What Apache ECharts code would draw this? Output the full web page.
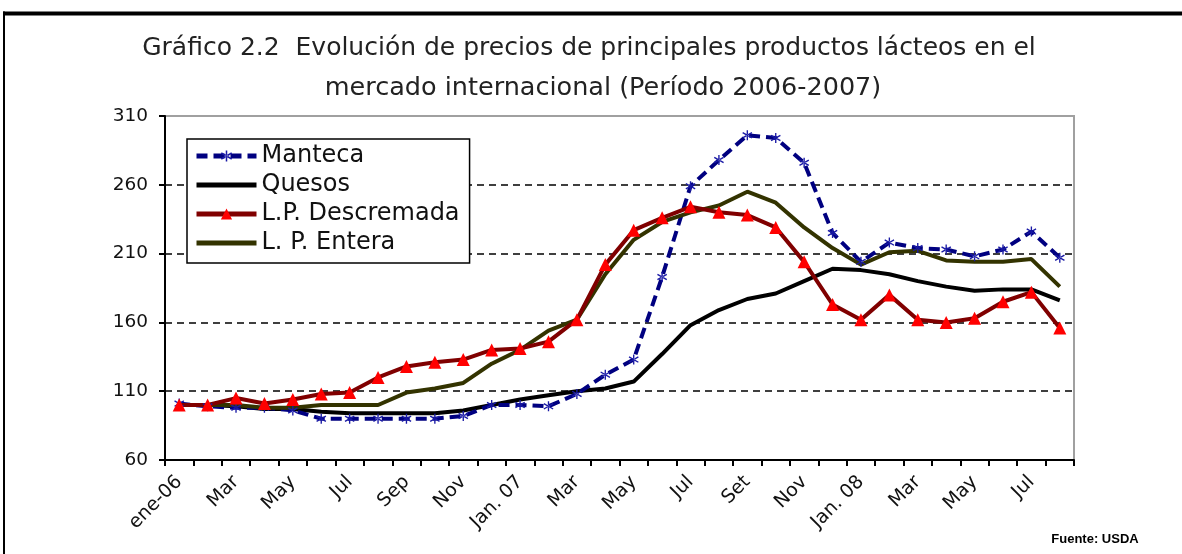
<!DOCTYPE html>
<html>
<head>
<meta charset="utf-8">
<script src="https://cdn.jsdelivr.net/npm/echarts@6/dist/echarts.min.js"></script>
<style>
html,body{margin:0;padding:0;background:#fff;}
#chart{width:1182px;height:554px;}
</style>
</head>
<body>
<div id="chart"></div>
<script>
var categories = ['ene-06','Feb','Mar','Abr','May','Jun','Jul','Ago','Sep','Oct','Nov','Dic',
  'Jan. 07','Feb','Mar','Abr','May','Jun','Jul','Ago','Set','Oct','Nov','Dic',
  'Jan. 08','Feb','Mar','Abr','May','Jun','Jul','Ago'];
var manteca = [101,99,98,98,96,90,90,90,90,90,92,100,100,99,108,122,133,193,259,278,296,294,276,225,204,218,214,213,208,213,226,207];
var quesos = [100,100,99,97,97,95,94,94,94,94,96,100,104,107,110,112,117,137,158,169,177,181,190,199,198,195,190,186,183,184,184,176];
var descremada = [100,100,105,101,104,108,109,120,128,131,133,140,141,146,162,202,227,236,244,240,238,229,204,173,162,180,162,160,163,175,182,156];
var entera = [100,100,100,98,98,100,100,100,109,112,116,130,140,154,162,195,220,233,240,245,255,247,229,214,202,211,212,205,204,204,206,186];
var seriesNames = ['Manteca','Quesos','L.P. Descremada','L. P. Entera'];
var titleLines = ['Gráfico 2.2  Evolución de precios de principales productos lácteos en el',
  'mercado internacional (Período 2006-2007)'];
var sourceText = 'Fuente: USDA';

var FONT = 'DejaVu Sans';
var star = 'path://M-0.8,-6L0.8,-6L0.8,6L-0.8,6Z M-5.9,-2.5L-5.1,-3.9L5.9,2.5L5.1,3.9Z M-5.9,2.5L-5.1,3.9L5.9,-2.5L5.1,-3.9Z';
var hidden = {color:'rgba(0,0,0,0)', borderWidth:0, opacity:0};

var chart = echarts.init(document.getElementById('chart'), null, {renderer:'canvas'});
chart.setOption({
  backgroundColor:'#fff',
  animation:false,
  graphic:[
    {type:'rect', shape:{x:3,y:11.5,width:1179,height:4}, style:{fill:'#000'}},
    {type:'rect', shape:{x:3,y:11.5,width:2,height:543}, style:{fill:'#000'}},
    {type:'text', x:589, y:48, style:{text:titleLines[0], font:'25px "DejaVu Sans"', fill:'#222', textAlign:'center', textVerticalAlign:'middle'}},
    {type:'text', x:603, y:88, style:{text:titleLines[1], font:'25.5px "DejaVu Sans"', fill:'#222', textAlign:'center', textVerticalAlign:'middle'}},
    {type:'text', x:1095, y:539, style:{text:sourceText, font:'bold 13px "Liberation Sans"', fill:'#000', textAlign:'center', textVerticalAlign:'middle'}}
  ],
  grid:{left:165, right:108, top:116, bottom:94, show:true, borderColor:'#a0a0a0', borderWidth:2, backgroundColor:'#fff'},
  legend:{
    data:[
      {name:seriesNames[0]},
      {name:seriesNames[1], itemStyle:hidden},
      {name:seriesNames[2]},
      {name:seriesNames[3], itemStyle:hidden}
    ],
    orient:'vertical',
    left:187, top:139,
    padding:[5,10,8,7],
    itemGap:5,
    itemWidth:60, itemHeight:14, itemTextGap:3,
    backgroundColor:'#fff',
    borderColor:'#000', borderWidth:1.5,
    lineStyle:{width:5},
    textStyle:{fontFamily:FONT, fontSize:24, color:'#111', lineHeight:24}
  },
  xAxis:{
    type:'category',
    data:categories,
    boundaryGap:true,
    axisLine:{lineStyle:{color:'#000', width:2}},
    axisTick:{show:true, interval:0, length:6, lineStyle:{color:'#000', width:2}},
    axisLabel:{interval:1, rotate:45, fontFamily:FONT, fontSize:19, color:'#111', margin:19},
    splitLine:{show:false}
  },
  yAxis:{
    type:'value',
    min:60, max:310, interval:50,
    axisLine:{show:true, lineStyle:{color:'#000', width:2}},
    axisTick:{show:true, length:6, lineStyle:{color:'#000', width:2}},
    axisLabel:{fontFamily:FONT, fontSize:18.5, color:'#111', margin:17},
    splitLine:{show:true, lineStyle:{color:['rgba(0,0,0,0)','#000','#000','#000','#000','rgba(0,0,0,0)'], width:1.5, type:[7,5]}}
  },
  series:[
    {name:'Quesos', type:'line', data:quesos, showSymbol:false, symbol:'none',
      lineStyle:{color:'#000', width:4}, itemStyle:{color:'#000'}},
    {name:'Manteca', type:'line', data:manteca, symbol:star, symbolSize:10,
      lineStyle:{color:'#000080', width:4, type:[11,6]}, itemStyle:{color:'#1a1aa6'}},
    {name:'L. P. Entera', type:'line', data:entera, showSymbol:false, symbol:'none',
      lineStyle:{color:'#333300', width:4}, itemStyle:{color:'#333300'}},
    {name:'L.P. Descremada', type:'line', data:descremada, symbol:'triangle', symbolSize:13,
      lineStyle:{color:'#800000', width:4}, itemStyle:{color:'#ff0000'}}
  ]
});
</script>
</body>
</html>
